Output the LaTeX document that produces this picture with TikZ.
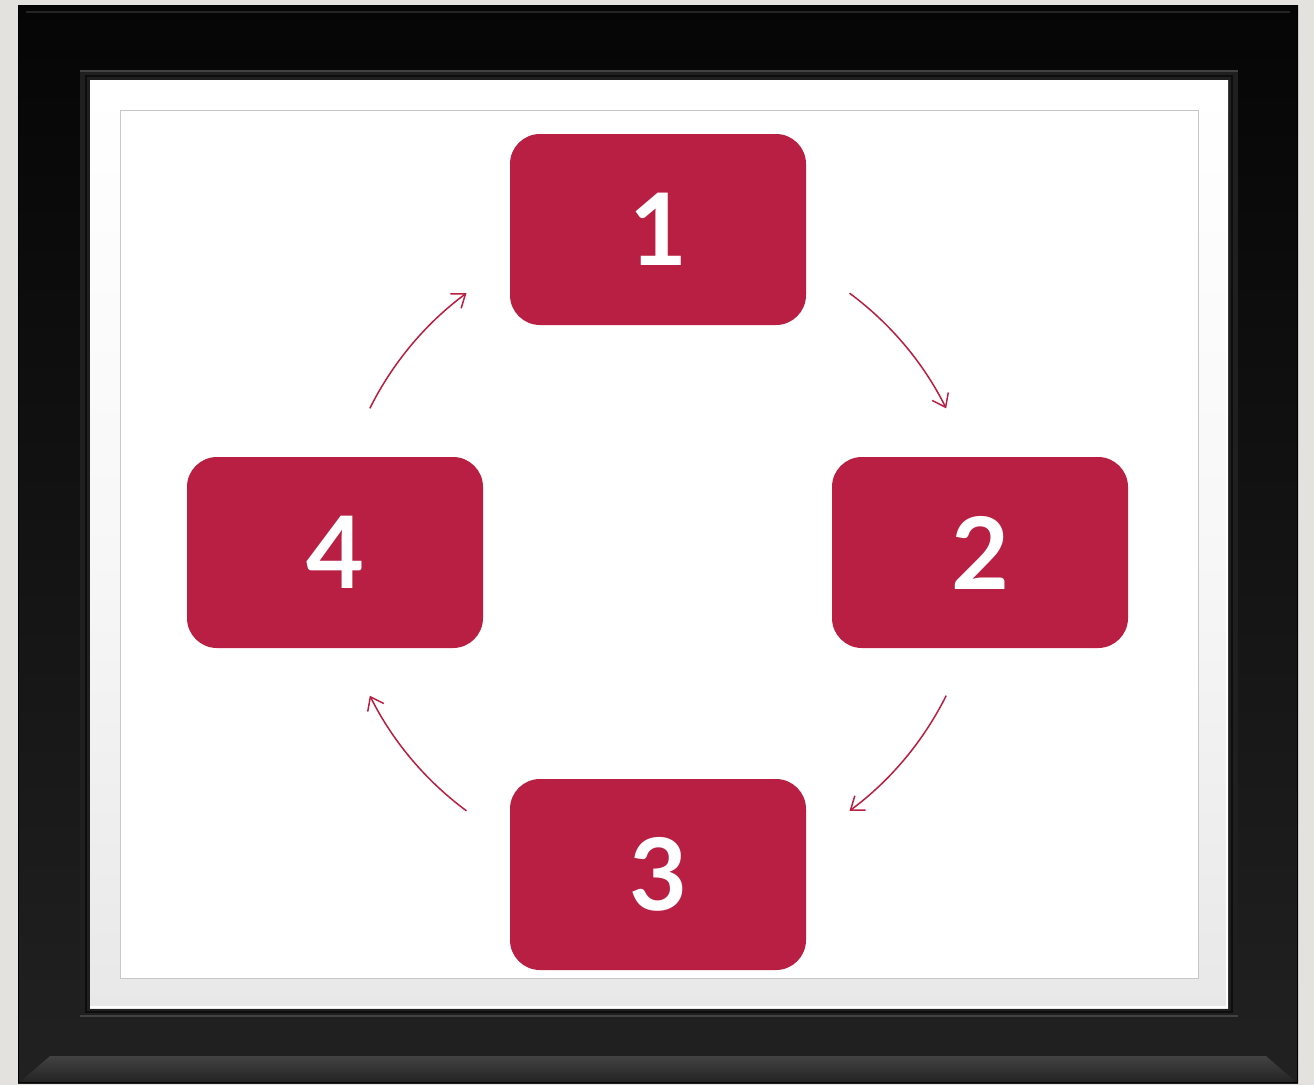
\documentclass[tikz,border=0pt]{standalone}
\usepackage{fontspec}
\setmainfont{Lato}
\usetikzlibrary{arrows.meta,calc}
\definecolor{boxred}{HTML}{B91F42}
\definecolor{wallgray}{HTML}{E4E2DE}
\tikzset{
  stepbox/.style={fill=boxred, draw=none, rounded corners=30pt, minimum width=296pt, minimum height=191pt, inner sep=0pt, text=white, font=\fontsize{100}{100}\selectfont\bfseries},
  cyclearrow/.style={draw=boxred, line width=1.5pt, -{Straight Barb[length=12pt,width=18pt,line width=1.5pt]}},
}
\begin{document}
\begin{tikzpicture}[x=1pt,y=-1pt]
\useasboundingbox (0,0) rectangle (1314,1085);
% wall
\fill[wallgray] (0,0) rectangle (1314,1085);
% frame
\shade[top color=black!98, bottom color=black!87] (18,5) rectangle (1298,1083);
\draw[black, line width=1.2pt] (18.6,5.6) rectangle (1297.4,1082.4);
% top highlight
\draw[black!86, line width=1.2pt] (26,12) -- (1290,12);
% bottom bevel
\shade[top color=black!74, bottom color=black!86] (50,1056) -- (1266,1056) -- (1296,1082) -- (20,1082) -- cycle;
% inner step
\fill[black!88] (80,70) rectangle (1238,1018);
\draw[black!74, line width=2pt] (80,71) -- (1238,71);
\draw[black!74, line width=1.5pt] (80,1016) -- (1238,1016);
\draw[black!95, line width=1.5pt] (86,76) rectangle (1232,1012);
% mat
\shade[top color=white, bottom color=black!9, middle color=white!97!black] (90,80) rectangle (1228,1008);
\draw[white, line width=1.2pt] (90,1007) -- (1227,1007) -- (1227,80);
% inner panel
\fill[white] (120,110) rectangle (1198,978);
\draw[black!12!wallgray, line width=1pt] (120,110) rectangle (1198,978);
% centre
\coordinate (ctr) at (658,552);
% boxes
\node[stepbox] (n1) at (658,229.5) {1};
\node[stepbox] (n2) at (980,552.5) {2};
\node[stepbox] (n3) at (658,874.5) {3};
\node[stepbox] (n4) at (335,552.5) {4};
% arrow endpoints
\coordinate (a1) at ($(ctr)+(-53.5:322)$);
\coordinate (a2) at ($(ctr)+(26.5:322)$);
\coordinate (a3) at ($(ctr)+(126.5:322)$);
\coordinate (a4) at ($(ctr)+(206.5:322)$);
\draw[cyclearrow] (a1) arc[start angle=-53.5, end angle=-26.5, radius=322];
\draw[cyclearrow] (a2) arc[start angle=26.5, end angle=53.5, radius=322];
\draw[cyclearrow] (a3) arc[start angle=126.5, end angle=153.5, radius=322];
\draw[cyclearrow] (a4) arc[start angle=206.5, end angle=233.5, radius=322];
\end{tikzpicture}
\end{document}
